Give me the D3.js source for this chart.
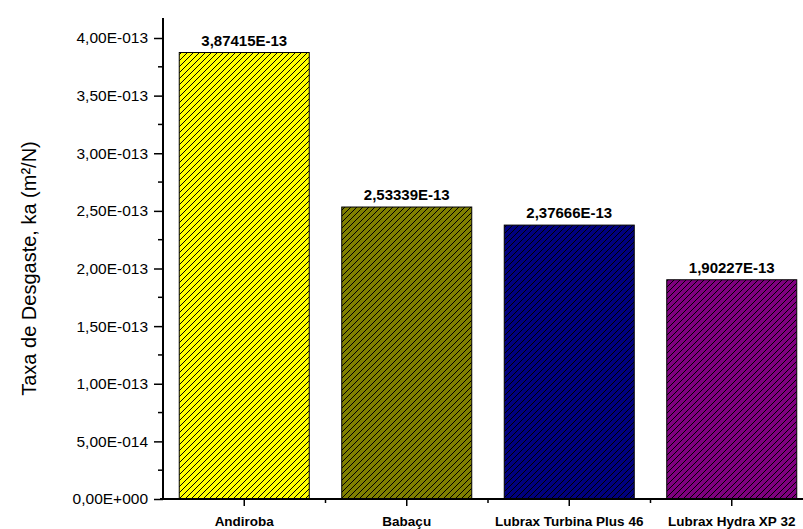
<!DOCTYPE html>
<html>
<head>
<meta charset="utf-8">
<script src="https://cdn.jsdelivr.net/npm/d3@7/dist/d3.min.js"></script>
<style>
  body { margin: 0; background: #fff; }
  text { font-family: "Liberation Sans", Arial, sans-serif; }
</style>
</head>
<body>
<script>
var categories = ["Andiroba", "Babaçu", "Lubrax Turbina Plus 46", "Lubrax Hydra XP 32"];
var values = [3.87415e-13, 2.53339e-13, 2.37666e-13, 1.90227e-13];
var valueLabels = ["3,87415E-13", "2,53339E-13", "2,37666E-13", "1,90227E-13"];
var colors = ["#ffff00", "#808000", "#000080", "#800080"];
var yTicks = [0, 0.5e-13, 1e-13, 1.5e-13, 2e-13, 2.5e-13, 3e-13, 3.5e-13, 4e-13];
var yTickLabels = ["0,00E+000", "5,00E-014", "1,00E-013", "1,50E-013", "2,00E-013",
                   "2,50E-013", "3,00E-013", "3,50E-013", "4,00E-013"];

var width = 803, height = 529;
var plotLeft = 163, plotBottom = 499, plotTop = 38, plotRight = 813;

var svg = d3.select("body").append("svg")
    .attr("width", width)
    .attr("height", height);

// hatch patterns, one per bar colour
var defs = svg.append("defs");
colors.forEach(function(c, i) {
    var p = defs.append("pattern")
        .attr("id", "hatch" + i)
        .attr("patternUnits", "userSpaceOnUse")
        .attr("width", 6)
        .attr("height", 6);
    p.append("rect").attr("width", 6).attr("height", 6).attr("fill", c);
    p.append("path")
        .attr("d", "M-1,1 l2,-2 M0,6 l6,-6 M5,7 l2,-2")
        .attr("stroke", "#000")
        .attr("stroke-width", 1);
});

var x = d3.scaleBand()
    .domain(categories)
    .range([plotLeft, plotRight])
    .paddingInner(0.2)
    .paddingOuter(0.1);

var y = d3.scaleLinear()
    .domain([0, 4e-13])
    .range([plotBottom, plotTop]);

// bars
svg.selectAll(".bar")
    .data(values)
    .enter().append("rect")
    .attr("class", "bar")
    .attr("x", function(d, i) { return x(categories[i]); })
    .attr("y", function(d) { return y(d); })
    .attr("width", x.bandwidth())
    .attr("height", function(d) { return y(0) - y(d); })
    .attr("fill", function(d, i) { return "url(#hatch" + i + ")"; })
    .attr("stroke", "#000")
    .attr("stroke-width", 1);

// value labels
svg.selectAll(".vlabel")
    .data(values)
    .enter().append("text")
    .attr("class", "vlabel")
    .attr("x", function(d, i) { return x(categories[i]) + x.bandwidth() / 2; })
    .attr("y", function(d) { return y(d) - 7; })
    .attr("text-anchor", "middle")
    .attr("font-size", 15)
    .attr("font-weight", "bold")
    .text(function(d, i) { return valueLabels[i]; });

// y axis
var yAxis = d3.axisLeft(y)
    .tickValues(yTicks)
    .tickFormat(function(d, i) { return yTickLabels[i]; })
    .tickSize(9)
    .tickPadding(6);
var gy = svg.append("g")
    .attr("transform", "translate(" + plotLeft + ",0)")
    .call(yAxis);
gy.select(".domain").attr("stroke-width", 2).attr("d", "M0," + (plotBottom + 1) + "V" + (plotTop - 20));
gy.selectAll(".tick line").attr("stroke-width", 1.5);
gy.selectAll(".tick text").attr("font-size", 15.5).attr("fill", "#000")
    .style("font-family", "'Liberation Sans', Arial, sans-serif");

// minor y ticks
svg.selectAll(".ymin")
    .data(yTicks.slice(0, -1))
    .enter().append("line")
    .attr("x1", plotLeft - 5).attr("x2", plotLeft)
    .attr("y1", function(d) { return y(d + 0.25e-13); })
    .attr("y2", function(d) { return y(d + 0.25e-13); })
    .attr("stroke", "#000").attr("stroke-width", 1.5);

// x axis
var xAxis = d3.axisBottom(x).tickSize(7).tickPadding(10).tickSizeOuter(0);
var gx = svg.append("g")
    .attr("transform", "translate(0," + plotBottom + ")")
    .call(xAxis);
gx.select(".domain").attr("stroke-width", 2).attr("d", "M" + (plotLeft - 3) + ",0H" + plotRight);
gx.selectAll(".tick line").attr("stroke-width", 1.5);
gx.selectAll(".tick text").attr("font-size", 13.5).attr("font-weight", "bold").attr("fill", "#000")
    .style("font-family", "'Liberation Sans', Arial, sans-serif");

// minor x ticks between categories
svg.selectAll(".xmin")
    .data(categories.slice(1))
    .enter().append("line")
    .attr("x1", function(d) { return x(d) - x.step() * x.paddingInner() / 2; })
    .attr("x2", function(d) { return x(d) - x.step() * x.paddingInner() / 2; })
    .attr("y1", plotBottom).attr("y2", plotBottom + 4)
    .attr("stroke", "#000").attr("stroke-width", 1.5);

// y title
svg.append("text")
    .attr("transform", "translate(36," + ((plotTop + plotBottom) / 2) + ") rotate(-90)")
    .attr("text-anchor", "middle")
    .attr("font-size", 20)
    .text("Taxa de Desgaste, ka (m²/N)");
</script>
</body>
</html>
